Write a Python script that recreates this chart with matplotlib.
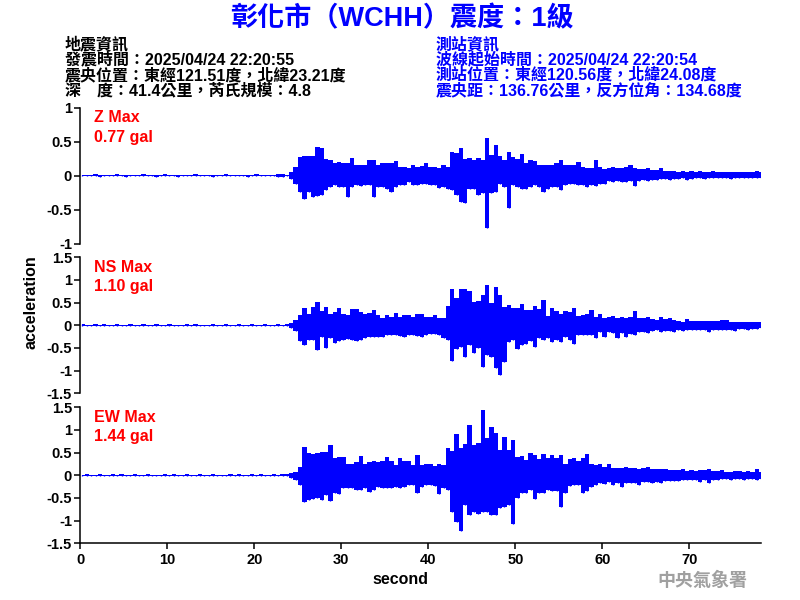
import numpy as np
import matplotlib
matplotlib.use('Agg')
import matplotlib.pyplot as plt
from matplotlib.ticker import FuncFormatter

plt.rcParams['font.family'] = ['Liberation Sans', 'Noto Sans CJK TC', 'DejaVu Sans']
plt.rcParams['font.weight'] = 'bold'
plt.rcParams['axes.unicode_minus'] = False

# Peak values per 0.5 s bin (upper / lower), in 0.01 gal.
BIN = 0.5

z_hi = [1, 1, 1, 2, 1, 1, 1, 1, 2, 1,
        1, 1, 1, 1, 2, 1, 1, 1, 1, 2,
        1, 1, 1, 1, 1, 1, 2, 1, 1, 1,
        1, 1, 1, 2, 1, 1, 1, 1, 1, 1,
        2, 1, 1, 1, 1, 2, 2, 1, 5, 13,
        27, 29, 29, 29, 42, 40, 24, 23, 19, 20,
        19, 18, 26, 16, 16, 15, 23, 23, 16, 18,
        19, 19, 21, 13, 13, 11, 15, 13, 14, 18,
        13, 13, 12, 15, 13, 35, 33, 40, 25, 26,
        23, 26, 23, 56, 30, 45, 29, 23, 35, 28,
        25, 32, 18, 23, 21, 16, 16, 15, 16, 18,
        23, 16, 16, 16, 20, 13, 12, 12, 23, 13,
        10, 11, 13, 11, 11, 13, 16, 11, 10, 10,
        11, 8, 8, 11, 7, 7, 7, 6, 7, 6,
        7, 6, 7, 6, 6, 7, 6, 5, 5, 6,
        5, 5, 5, 5, 6, 7, 5]
z_lo = [-1, -1, -1, -1, -2, -1, -1, -1, -1, -1,
        -2, -1, -1, -1, -1, -1, -1, -2, -1, -1,
        -1, -1, -2, -1, -1, -1, -1, -1, -1, -1,
        -2, -1, -1, -1, -1, -1, -1, -1, -2, -1,
        -1, -1, -1, -1, -1, -2, -2, -1, -5, -12,
        -24, -34, -24, -31, -30, -28, -21, -17, -14, -17,
        -17, -31, -17, -14, -15, -14, -14, -31, -17, -16,
        -19, -24, -17, -14, -13, -10, -13, -14, -12, -12,
        -13, -14, -18, -17, -19, -21, -28, -38, -40, -19,
        -19, -29, -26, -77, -26, -24, -12, -17, -48, -14,
        -17, -20, -19, -17, -14, -17, -24, -19, -17, -16,
        -21, -14, -12, -12, -13, -13, -17, -14, -15, -12,
        -12, -8, -9, -8, -9, -9, -8, -15, -8, -7,
        -8, -7, -7, -5, -5, -6, -5, -5, -4, -7,
        -5, -4, -4, -5, -4, -4, -4, -4, -3, -5,
        -3, -3, -3, -3, -3, -4, -3]

ns_hi = [2, 1, 1, 2, 1, 2, 1, 1, 2, 1,
         1, 2, 1, 1, 2, 1, 1, 2, 1, 1,
         2, 1, 1, 1, 2, 1, 2, 1, 1, 1,
         2, 1, 1, 2, 1, 1, 2, 1, 1, 2,
         1, 1, 2, 1, 1, 2, 1, 2, 5, 12,
         23, 39, 26, 41, 51, 32, 40, 26, 30, 39,
         26, 23, 36, 36, 29, 26, 27, 34, 23, 17,
         23, 19, 28, 19, 23, 23, 19, 24, 26, 19,
         19, 23, 17, 15, 43, 80, 61, 79, 79, 76,
         52, 54, 67, 89, 49, 84, 67, 41, 45, 38,
         39, 46, 34, 34, 43, 36, 56, 21, 39, 32,
         26, 32, 29, 39, 21, 23, 26, 34, 19, 24,
         15, 19, 21, 17, 19, 15, 18, 32, 15, 15,
         19, 14, 12, 19, 14, 15, 12, 10, 8, 14,
         10, 10, 10, 10, 10, 10, 10, 11, 12, 8,
         8, 7, 7, 7, 8, 8, 7]
ns_lo = [-1, -2, -1, -1, -2, -1, -2, -1, -1, -2,
         -2, -1, -1, -2, -1, -1, -2, -1, -2, -1,
         -1, -2, -1, -1, -1, -2, -1, -2, -1, -1,
         -2, -1, -2, -1, -1, -2, -1, -1, -2, -1,
         -2, -1, -1, -2, -1, -1, -2, -2, -6, -13,
         -35, -43, -32, -32, -54, -25, -51, -29, -40, -35,
         -32, -30, -33, -35, -32, -29, -25, -25, -26, -26,
         -21, -21, -21, -23, -25, -21, -21, -23, -25, -21,
         -20, -20, -21, -27, -32, -79, -52, -47, -69, -43,
         -62, -51, -91, -65, -69, -95, -110, -82, -36, -32,
         -52, -43, -42, -35, -47, -27, -32, -29, -37, -32,
         -36, -25, -32, -42, -21, -21, -21, -21, -27, -14,
         -25, -15, -18, -29, -18, -25, -20, -21, -15, -14,
         -18, -13, -11, -15, -13, -13, -14, -10, -13, -10,
         -10, -11, -10, -11, -14, -11, -11, -10, -10, -10,
         -13, -8, -8, -11, -8, -8, -7]

ew_hi = [1, 2, 1, 1, 2, 1, 1, 2, 1, 2,
         1, 1, 2, 1, 1, 2, 1, 1, 1, 2,
         1, 2, 1, 1, 2, 1, 1, 2, 1, 1,
         2, 1, 1, 1, 2, 1, 2, 1, 1, 2,
         1, 2, 1, 1, 2, 1, 2, 2, 4, 8,
         19, 63, 49, 46, 50, 52, 52, 66, 38, 41,
         41, 26, 24, 30, 43, 26, 29, 32, 29, 32,
         40, 32, 23, 39, 32, 32, 23, 45, 23, 26,
         25, 21, 26, 23, 60, 54, 91, 60, 68, 111,
         67, 71, 144, 82, 107, 93, 56, 85, 56, 78,
         41, 43, 34, 49, 45, 35, 48, 38, 45, 38,
         45, 26, 36, 38, 32, 38, 47, 24, 23, 24,
         19, 24, 17, 15, 15, 19, 15, 15, 14, 15,
         19, 14, 14, 13, 14, 12, 11, 11, 14, 10,
         11, 10, 11, 12, 14, 10, 10, 11, 8, 8,
         10, 10, 8, 10, 8, 14, 8]
ew_lo = [-2, -1, -1, -2, -1, -1, -2, -1, -2, -1,
         -1, -2, -1, -1, -2, -1, -1, -2, -1, -1,
         -2, -1, -1, -2, -1, -2, -1, -1, -2, -1,
         -1, -2, -1, -1, -2, -1, -1, -2, -1, -1,
         -2, -1, -2, -1, -1, -2, -1, -2, -5, -10,
         -21, -60, -54, -52, -51, -54, -43, -57, -38, -42,
         -29, -29, -27, -32, -32, -29, -36, -32, -25, -29,
         -29, -27, -25, -27, -25, -21, -21, -38, -25, -21,
         -21, -23, -42, -27, -32, -82, -102, -122, -65, -88,
         -80, -85, -82, -80, -88, -88, -73, -69, -65, -108,
         -49, -38, -40, -32, -52, -40, -38, -32, -35, -35,
         -71, -40, -23, -21, -21, -38, -35, -25, -21, -18,
         -20, -15, -21, -18, -25, -18, -18, -18, -21, -15,
         -15, -18, -15, -16, -13, -13, -13, -13, -10, -11,
         -10, -11, -14, -11, -18, -10, -10, -8, -8, -10,
         -8, -8, -10, -8, -8, -10, -8]

components = ['Z', 'NS', 'EW']
max_gal = ['0.77', '1.10', '1.44']
ylims = [1.0, 1.5, 1.5]
yticks = [[-1, -0.5, 0, 0.5, 1],
          [-1.5, -1, -0.5, 0, 0.5, 1, 1.5],
          [-1.5, -1, -0.5, 0, 0.5, 1, 1.5]]

title = '彰化市（WCHH）震度：1級'
quake_info = ['地震資訊',
              '發震時間：2025/04/24 22:20:55',
              '震央位置：東經121.51度，北緯23.21度',
              '深　度：41.4公里，芮氏規模：4.8']
station_info = ['測站資訊',
                '波線起始時間：2025/04/24 22:20:54',
                '測站位置：東經120.56度，北緯24.08度',
                '震央距：136.76公里，反方位角：134.68度']

BLUE = '#0000ff'
RED = '#ff0000'

fig = plt.figure(figsize=(8, 6), dpi=100)
fmt = FuncFormatter(lambda v, p: f'{v:g}')
traces = [(z_hi, z_lo), (ns_hi, ns_lo), (ew_hi, ew_lo)]
tops = [107.7, 257.3, 407.3]

for i, (hi, lo) in enumerate(traces):
    ax = fig.add_axes([80.3 / 800, 1 - (tops[i] + 136) / 600, 680.4 / 800, 136 / 600])
    # each bin spans [t, t + BIN]; draw it centred
    t = np.arange(len(hi)) * BIN + BIN / 2
    hi_g = np.array(hi) / 100
    lo_g = np.array(lo) / 100
    ax.fill_between(t, lo_g, hi_g, step='mid', color=BLUE, lw=0)
    ax.vlines(t, lo_g, hi_g, color=BLUE, lw=1)
    ax.set_xlim(0, 78.2)
    ax.set_ylim(-ylims[i], ylims[i])
    ax.set_yticks(yticks[i])
    ax.yaxis.set_major_formatter(fmt)
    for s in ['top', 'right']:
        ax.spines[s].set_visible(False)
    ax.spines['left'].set_linewidth(1.1)
    ax.tick_params(axis='y', length=4, width=1.1, labelsize=10.5, pad=2)
    if i < 2:
        ax.spines['bottom'].set_visible(False)
        ax.set_xticks([])
    else:
        ax.spines['bottom'].set_linewidth(1.1)
        ax.set_xticks(range(0, 80, 10))
        ax.tick_params(axis='x', length=4, width=1.1, labelsize=10.5, pad=3)
    ax.text(0.02, 0.927, f'{components[i]} Max', transform=ax.transAxes,
            color=RED, fontsize=11.5, va='center')
    ax.text(0.02, 0.783, f'{max_gal[i]} gal', transform=ax.transAxes,
            color=RED, fontsize=11.5, va='center')

fig.text(401.5 / 800, 1 - 19.5 / 600, title, color=BLUE, fontsize=19.5,
         ha='center', va='center')
for k, y in enumerate([44, 59.5, 75, 90.5]):
    fig.text(65 / 800, 1 - y / 600, quake_info[k], color='black',
             fontsize=11.5, va='center')
    fig.text(435.5 / 800, 1 - y / 600, station_info[k], color=BLUE,
             fontsize=11.5, va='center')

fig.text(31.5 / 800, 1 - 302 / 600, 'acceleration', rotation=90,
         fontsize=11.5, ha='center', va='center')
fig.text(400.5 / 800, 1 - 580 / 600, 'second', fontsize=11.5,
         ha='center', va='center')
fig.text(702 / 800, 1 - 581 / 600, '中央氣象署', color='#a0a0a0',
         fontsize=13, ha='center', va='center')

plt.savefig('out.png', dpi=100)
